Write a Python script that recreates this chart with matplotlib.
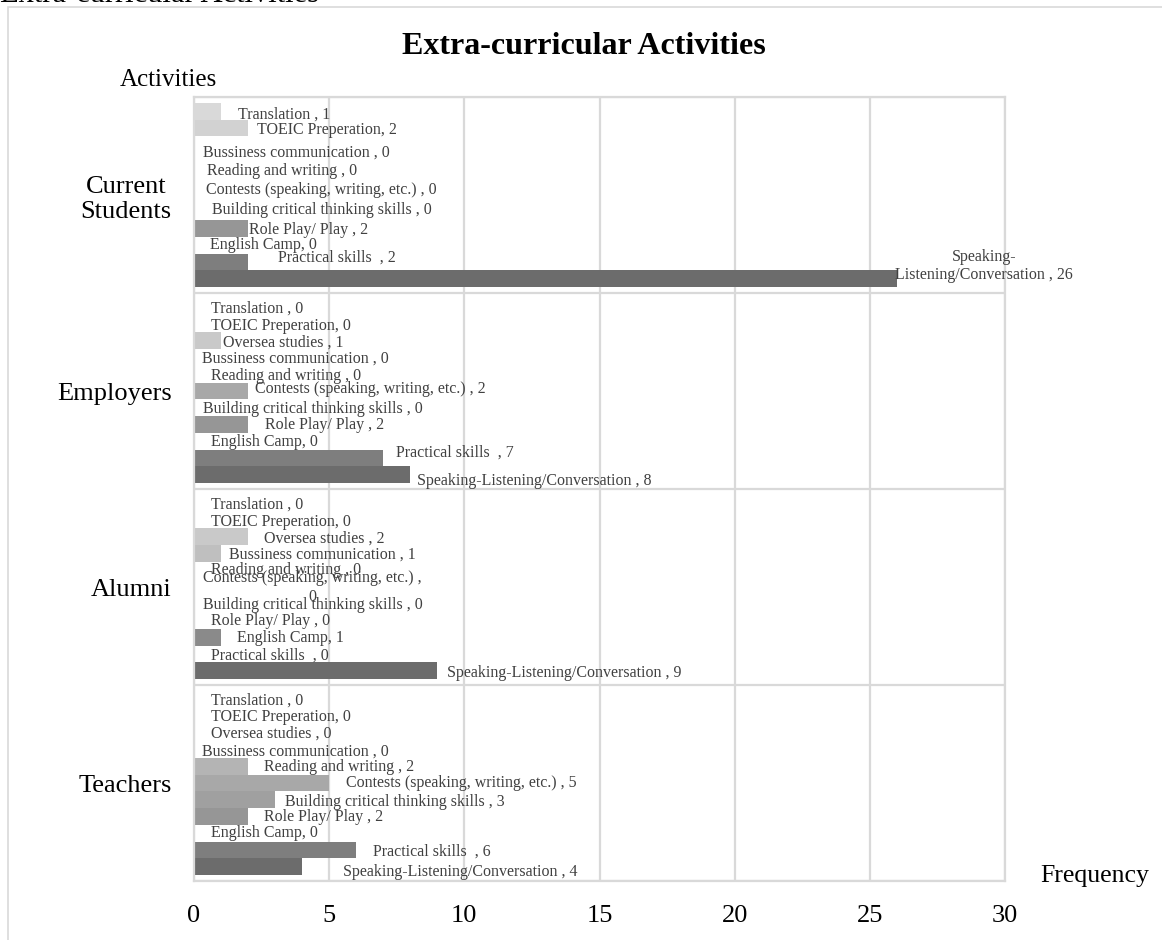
import numpy as np
import matplotlib.pyplot as plt
from matplotlib.patches import Rectangle

plt.rcParams["font.family"] = ["Liberation Serif", "DejaVu Serif"]

# --- data ---------------------------------------------------------------
groups = ["Current\nStudents", "Employers", "Alumni", "Teachers"]
series = ["Translation ", "TOEIC Preperation", "Oversea studies ",
          "Bussiness communication ", "Reading and writing ",
          "Contests (speaking, writing, etc.) ",
          "Building critical thinking skills ", "Role Play/ Play ",
          "English Camp", "Practical skills  ",
          "Speaking-Listening/Conversation "]
current_students = [1, 2, np.nan, 0, 0, 0, 0, 2, 0, 2, 26]
employers = [0, 0, 1, 0, 0, 2, 0, 2, 0, 7, 8]
alumni = [0, 0, 2, 1, 0, 0, 0, 0, 1, 0, 9]
teachers = [0, 0, 0, 0, 2, 5, 3, 2, 0, 6, 4]
values = [current_students, employers, alumni, teachers]

# --- styling ------------------------------------------------------------
colors = ["#d9d9d9", "#d2d2d2", "#c9c9c9", "#bfbfbf", "#b4b4b4", "#a8a8a8",
          "#a0a0a0", "#969696", "#8a8a8a", "#7e7e7e", "#6c6c6c"]
# manual label nudges (pixels from bar end / bar centre, y downwards)
label_off = [
    [(17, 3), (9, 2), None, (9, -9), (13, -7), (12, -5), (18, -1.5), (1, 2), (16, 0), (30, -4), (87, -13)],
    [(17, 1), (17, 1.5), (2, 2), (8, 1), (17, 2), (7, -2.5), (9, 1), (17, 1), (17, 1), (13, -5.5), (7, 6)],
    [(17, 1), (17, 1.5), (16, 2), (8, 1), (17, 0), (118, 0.5), (9, 1), (17, 1), (16, 1), (17, 1.5), (10, 2)],
    [(17, 1), (17, 1), (17, 1), (8, 2), (16, 1), (17, 0), (10, 2), (16, 1), (17, 0), (17, 1.5), (41, 5)],
]
wrapped = {(0, 10): "Speaking-\nListening/Conversation , 26",
           (2, 5): "Contests (speaking, writing, etc.) ,\n0"}

W, H = 1162, 940
fig = plt.figure(figsize=(W / 100, H / 100), dpi=100)
ax = fig.add_axes([194 / W, 1 - 881 / H, 811 / W, 784 / H])

n = len(series)
step = 0.94 / n
for i, name in enumerate(series):
    y = np.arange(len(groups)) + (i - (n - 1) / 2) * step
    vals = [v[i] for v in values]
    ax.barh(y, vals, height=step, color=colors[i], zorder=2)
    for g, v in enumerate(vals):
        off = label_off[g][i]
        if off is None or np.isnan(v):
            continue
        txt = wrapped.get((g, i), f"{name}, {int(v)}")
        ha = "center" if (g, i) in wrapped else "left"
        ax.annotate(txt, (v, y[g]), xytext=(off[0], -off[1]),
                    textcoords="offset pixels", ha=ha, va="center",
                    multialignment="center", fontsize=11.5, color="#404040",
                    zorder=3, annotation_clip=False)

ax.set_xlim(0, 30)
ax.set_ylim(len(groups) - 0.5, -0.5)
ax.set_xticks(range(0, 31, 5))
ax.set_yticks(range(len(groups)))
ax.set_yticklabels(groups, multialignment="center")
ax.set_yticks(np.arange(-0.5, len(groups), 1), minor=True)
ax.tick_params(axis="both", which="both", length=0, labelsize=19)
ax.tick_params(axis="x", pad=17)
ax.tick_params(axis="y", pad=16)
ax.grid(axis="x", color="#d9d9d9", lw=1.6, zorder=0)
ax.grid(axis="y", which="minor", color="#d9d9d9", lw=1.6, zorder=0)
ax.set_axisbelow(True)
for s in ax.spines.values():
    s.set_color("#d9d9d9")
    s.set_linewidth(1.6)

fig.text(584 / W, 1 - 46 / H, "Extra-curricular Activities", ha="center",
         va="center", fontsize=23, fontweight="bold")
fig.text(120 / W, 1 - 80 / H, "Activities", ha="left", va="center", fontsize=18)
fig.text(1040 / W, 1 - 876 / H, "Frequency", ha="left", va="center", fontsize=18.5)
# heading of the surrounding document, cut off by the crop
fig.text(0, 1 - 2 / H, "Extra-curricular Activities", ha="left",
         va="baseline", fontsize=22)
fig.patches.append(Rectangle((8 / W, -0.1), 1.2, 1.1 - 7 / H,
                             transform=fig.transFigure, fill=False,
                             edgecolor="#d9d9d9", lw=1.2))

fig.savefig("out.png", dpi=100)
